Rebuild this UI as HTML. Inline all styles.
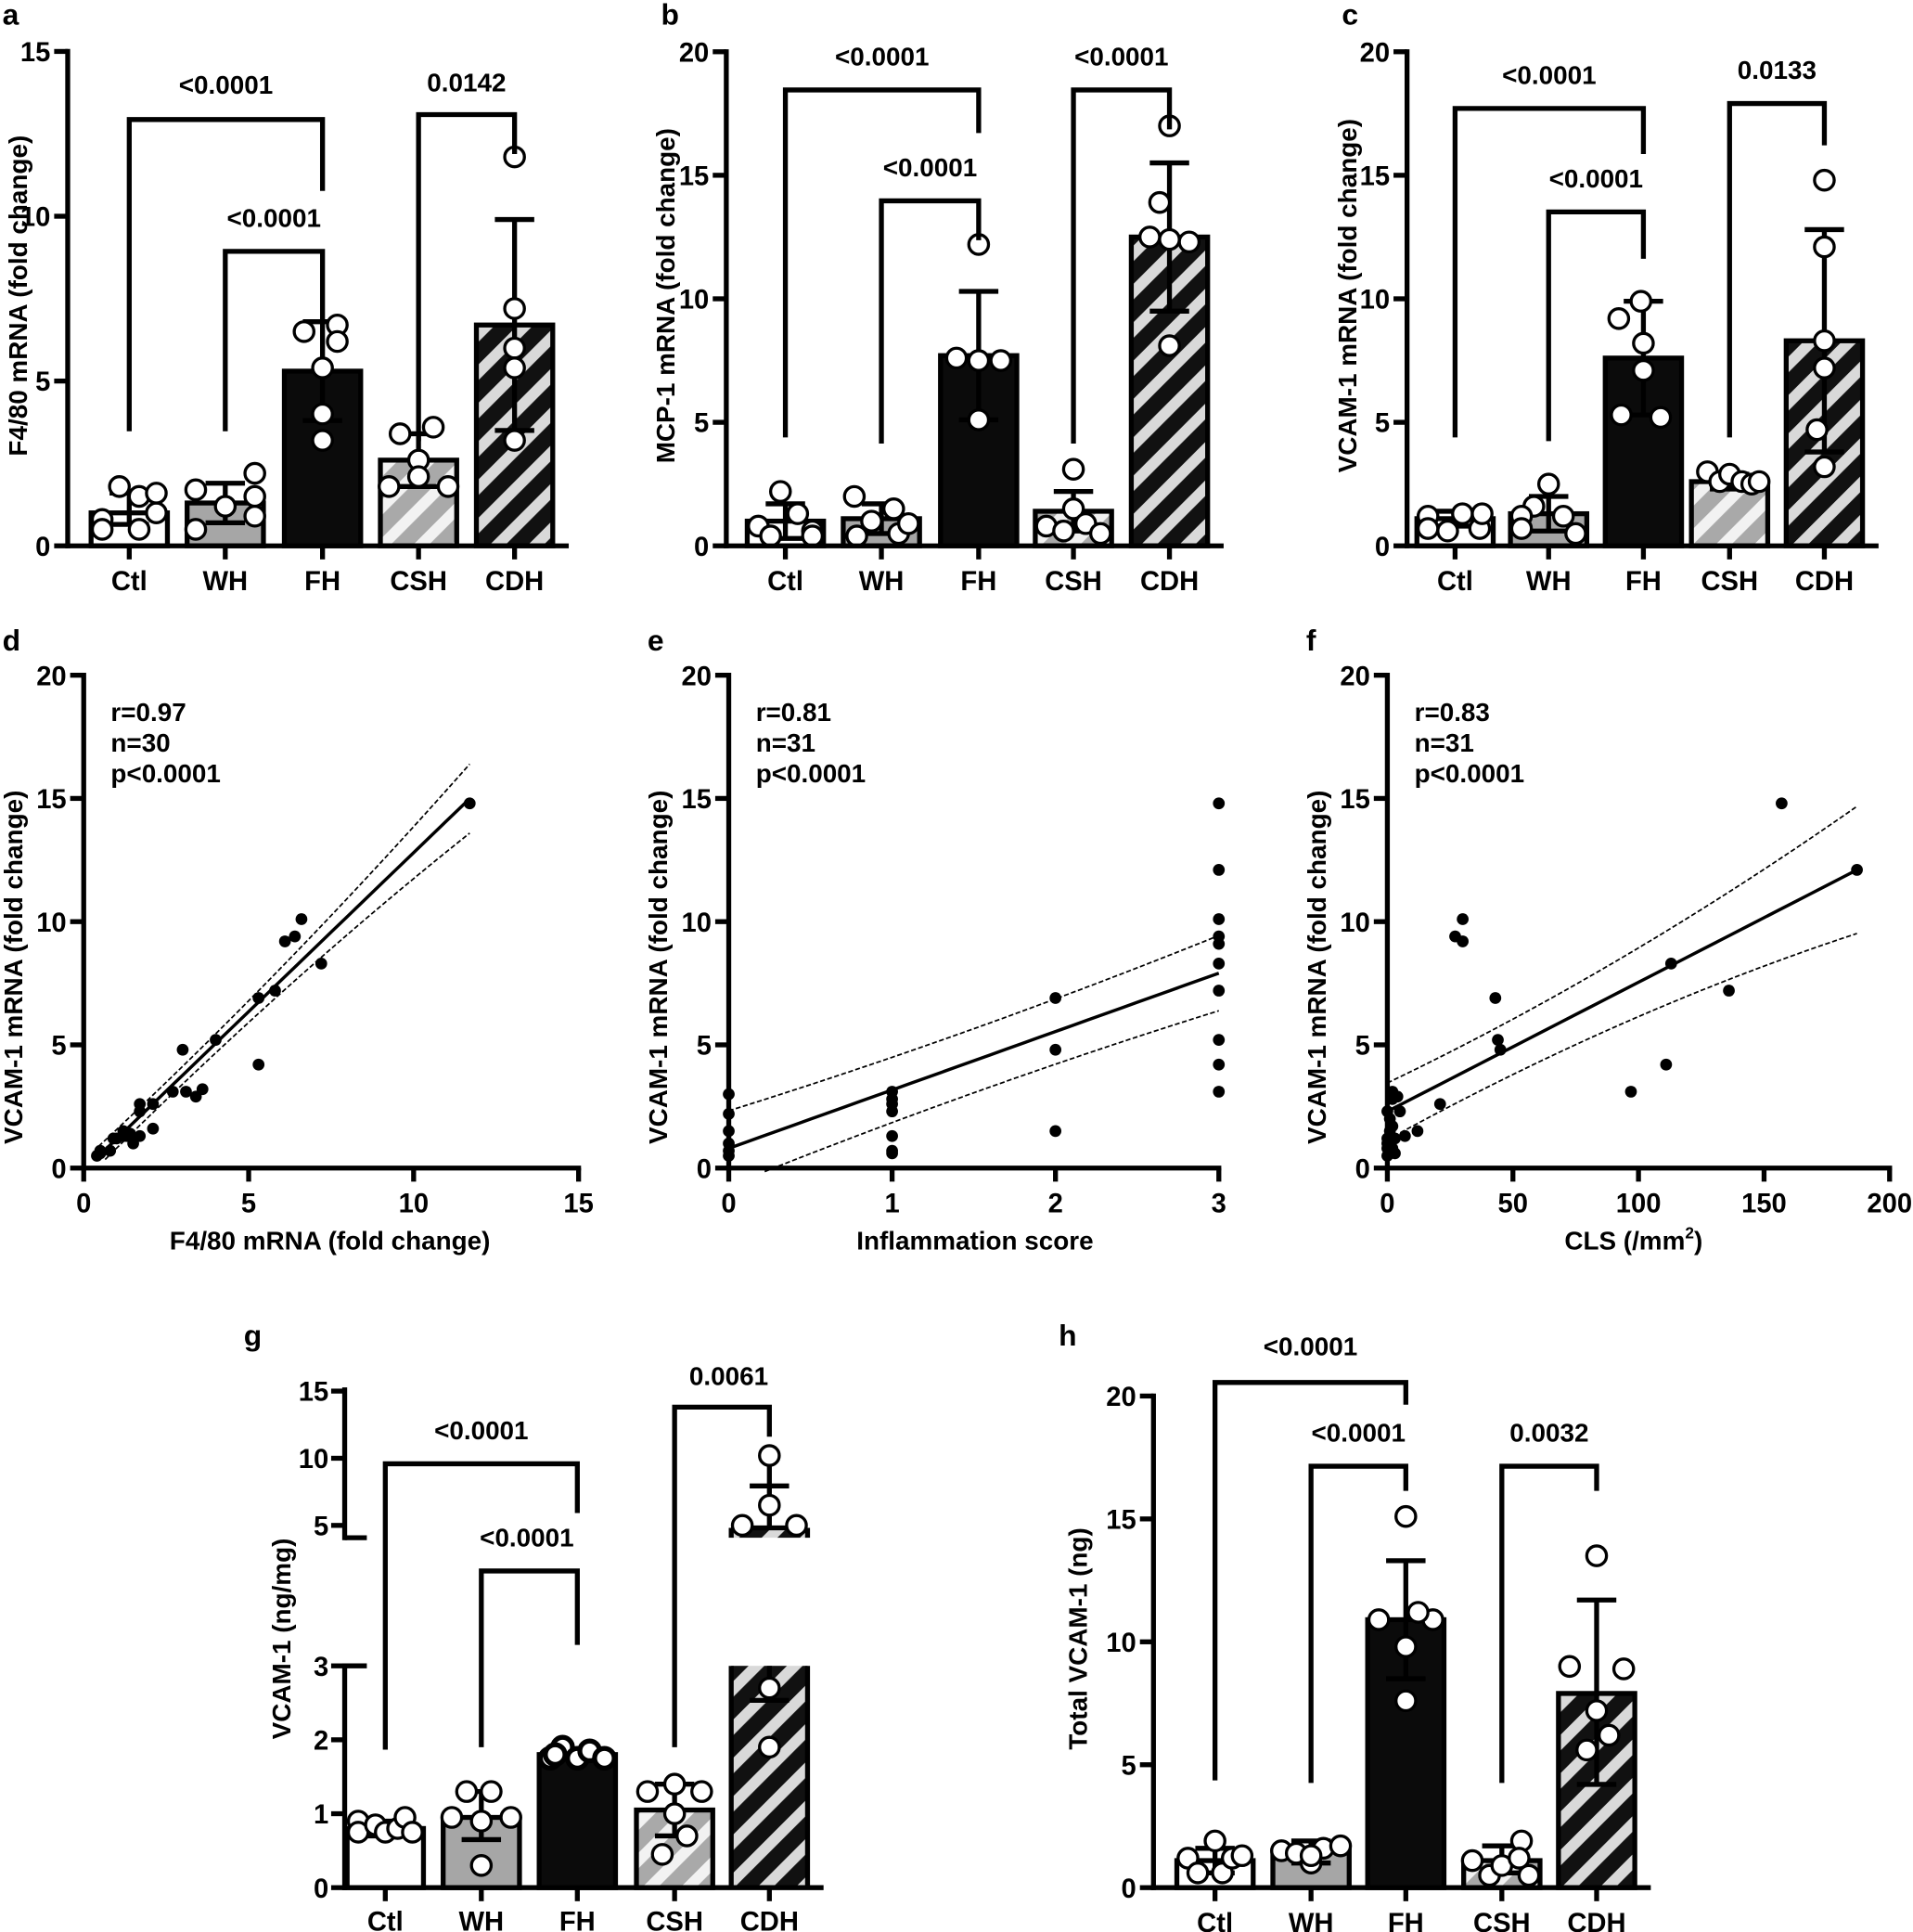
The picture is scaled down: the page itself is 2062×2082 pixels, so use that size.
<!DOCTYPE html>
<html><head><meta charset="utf-8"><style>html,body{margin:0;padding:0;background:#fff}svg{display:block}text{font-family:"Liberation Sans",Arial,sans-serif;font-weight:bold;fill:#000}</style></head>
<body>
<svg id="s" xmlns="http://www.w3.org/2000/svg" width="2062" height="2082" viewBox="0 0 1554 1568" preserveAspectRatio="none">
<defs>
<pattern id="pcsh" patternUnits="userSpaceOnUse" width="22" height="22" patternTransform="rotate(45)"><rect width="22" height="22" fill="#a9a9a9"/><rect width="9" height="22" fill="#f2f2f2"/></pattern>
<pattern id="pcdh" patternUnits="userSpaceOnUse" width="22" height="22" patternTransform="rotate(45)"><rect width="22" height="22" fill="#111"/><rect width="9" height="22" fill="#d9d9d9"/></pattern>
</defs>
<g id="g"></g>
</svg>
<script>
var out=[];
function L(x1,y1,x2,y2,w,extra){out.push('<line x1="'+x1+'" y1="'+y1+'" x2="'+x2+'" y2="'+y2+'" stroke="#000" stroke-width="'+(w||4)+'" '+(extra||'')+'/>');}
function T(x,y,s,size,anchor,extra){out.push('<text x="'+x+'" y="'+y+'" font-size="'+(size||20)+'" text-anchor="'+(anchor||'middle')+'" '+(extra||'')+'>'+s+'</text>');}
var fills=['#fff','#a6a6a6','#0b0b0b','url(#pcsh)','url(#pcdh)'];
var names=['Ctl','WH','FH','CSH','CDH'];
function barPanel(p){
  var Y=function(v){return p.y0-v*p.ppu;};
  for(var i=0;i<5;i++){var cx=p.cats[i],v=p.vals[i];
    out.push('<rect x="'+(cx-31)+'" y="'+Y(v)+'" width="62" height="'+(p.y0-Y(v))+'" fill="'+fills[i]+'" stroke="#000" stroke-width="4"/>');}
  for(var i=0;i<5;i++){var cx=p.cats[i];
    L(cx,Y(p.lo[i]),cx,Y(p.hi[i]),4);L(cx-16,Y(p.lo[i]),cx+16,Y(p.lo[i]),4);L(cx-16,Y(p.hi[i]),cx+16,Y(p.hi[i]),4);
    p.pts[i].forEach(function(q){out.push('<circle cx="'+(cx+q[0])+'" cy="'+Y(q[1])+'" r="8" fill="#fff" stroke="#000" stroke-width="2.5"/>');});}
  L(p.ax,p.y0+2,p.ax,Y(p.top)-2,4);
  L(p.ax-2,p.y0,p.cats[4]+44,p.y0,4);
  p.ticks.forEach(function(t){L(p.ax-11,Y(t),p.ax,Y(t),4);T(p.ax-14,Y(t)+8,t,22,'end');});
  for(var i=0;i<5;i++){L(p.cats[i],p.y0,p.cats[i],p.y0+11,4);T(p.cats[i],p.y0+36,names[i],22);}
  p.br.forEach(function(b){var x1=p.cats[b[0]],x2=p.cats[b[1]];
    out.push('<polyline points="'+x1+','+b[3]+' '+x1+','+b[2]+' '+x2+','+b[2]+' '+x2+','+b[4]+'" fill="none" stroke="#000" stroke-width="4"/>');
    T((x1+x2)/2,b[6],b[5],21);});
  out.push('<text transform="translate('+p.lx+','+p.ly+') rotate(-90)" font-size="21" text-anchor="middle">'+p.label+'</text>');
  T(p.letX,p.letY,p.letter,24,'start');
}
function pts(vals,offs){return vals.map(function(v,i){return [offs[i],v];});}
barPanel({ax:55,y0:443,ppu:26.75,top:15,ticks:[0,5,10,15],cats:[105,183,262,340,418],
 vals:[1.0,1.3,5.3,2.6,6.7],lo:[0.65,0.7,3.8,1.8,3.5],hi:[1.6,1.9,6.8,3.4,9.9],
 pts:[pts([0.8,0.5,1.8,0.5,1.5,1.0],[-22,-22,-8,8,8,22]).concat([[22,1.6]]),pts([1.7,0.5,1.2,2.2,1.5,0.9],[-24,-24,0,24,24,24]),pts([6.5,6.7,6.2,5.4,4.0,3.2],[-15,12,12,0,0,0]),pts([3.4,1.8,2.6,2.1,1.8,3.6],[-15,-24,0,0,24,12]),pts([11.8,7.2,6.0,5.4,3.2],[0,0,0,0,0])],
 br:[[0,2,97,350,155,'&lt;0.0001',76],[1,2,204,350,262,'&lt;0.0001',184],[3,4,93,358,125,'0.0142',74]],
 label:'F4/80 mRNA (fold change)',lx:22,ly:240,letter:'a',letX:2,letY:20});
barPanel({ax:590,y0:443,ppu:20.05,top:20,ticks:[0,5,10,15,20],cats:[638,716,795,872,950],
 vals:[1.0,1.1,7.7,1.4,12.5],lo:[0.3,0.5,5.1,0.6,9.5],hi:[1.7,1.7,10.3,2.2,15.5],
 pts:[pts([0.8,2.2,0.4,1.3,0.6,0.4],[-22,-4,-12,10,22,22]),pts([2.0,1.0,0.4,1.5,0.5,0.9],[-22,-8,-20,10,14,22]),pts([12.2,7.6,7.5,7.5,5.1],[0,-18,0,18,0]),pts([3.1,1.5,0.8,0.6,0.9,0.5],[0,0,-22,-8,10,22]),pts([17.0,13.9,12.5,12.4,12.3,8.1],[0,-8,-16,0,16,0])],
 br:[[0,2,73,355,108,'&lt;0.0001',53],[1,2,163,360,195,'&lt;0.0001',143],[3,4,73,360,105,'&lt;0.0001',53]],
 label:'MCP-1 mRNA (fold change)',lx:548,ly:240,letter:'b',letX:537,letY:20});
barPanel({ax:1143,y0:443,ppu:20.05,top:20,ticks:[0,5,10,15,20],cats:[1182,1258,1335,1405,1482],
 vals:[1.1,1.3,7.6,2.6,8.3],lo:[0.8,0.6,5.3,2.3,3.8],hi:[1.4,2.0,9.9,2.9,12.8],
 pts:[pts([1.2,0.7,0.6,1.3,0.7,1.3],[-22,-22,-6,6,20,22]),pts([2.5,1.6,1.2,0.7,1.2,0.5],[0,-12,-22,-22,12,22]),pts([9.9,9.2,7.1,5.3,5.2,8.2],[-2,-20,0,-18,14,0]),pts([3.0,2.6,2.9,2.6,2.5,2.6],[-18,-8,0,10,18,24]),pts([14.8,12.1,8.3,7.2,4.7,3.2],[0,0,0,0,-6,0])],
 br:[[0,2,88,355,125,'&lt;0.0001',68],[1,2,172,358,210,'&lt;0.0001',152],[3,4,84,355,118,'0.0133',64]],
 label:'VCAM-1 mRNA (fold change)',lx:1102,ly:240,letter:'c',letX:1090,letY:20});

function scatter(p){
  var X=function(v){return p.ax+v*p.xpu;},Y=function(v){return 948-v*20;};
  L(p.ax,950,p.ax,546,4);L(p.ax-2,948,X(p.xmax)+2,948,4);
  [0,5,10,15,20].forEach(function(t){L(p.ax-11,Y(t),p.ax,Y(t),4);T(p.ax-14,Y(t)+8,t,22,'end');});
  p.xt.forEach(function(t){L(X(t),948,X(t),959,4);T(X(t),984,t,22);});
  function poly(f,x0,x1,dash){var s='';for(var k=0;k<=30;k++){var x=x0+(x1-x0)*k/30;s+=X(x)+','+Y(f(x))+' ';}
    out.push('<polyline points="'+s+'" fill="none" stroke="#000" stroke-width="'+(dash?1.3:2.6)+'" '+(dash?'stroke-dasharray="4,2"':'')+'/>');}
  poly(p.fit,p.fx0,p.fx1,false);poly(p.up,p.ux0,p.fx1,true);poly(p.dn,p.dx0,p.fx1,true);
  p.d.forEach(function(q){out.push('<circle cx="'+X(q[0])+'" cy="'+Y(q[1])+'" r="4.8" fill="#000"/>');});
  T(p.ax+22,585,p.s[0],21,'start');T(p.ax+22,610,p.s[1],21,'start');T(p.ax+22,635,p.s[2],21,'start');
  out.push('<text transform="translate('+(p.ax-50)+',785) rotate(-90)" font-size="21" text-anchor="middle">VCAM-1 mRNA (fold change)</text>');
  out.push('<text x="'+(p.ax+200)+'" y="1014" font-size="21" text-anchor="middle">'+p.xl+'</text>');
  T(p.ax-66,528,p.letter,24,'start');
}
scatter({ax:68,xpu:26.8,xmax:15,xt:[0,5,10,15],fit:function(x){return -0.1+1.29*x;},fx0:0.45,fx1:11.7,
 up:function(x){var c=1.29*x-0.1, m=3.2;return c+0.3+0.012*(x-m)*(x-m)+0.02*x;},ux0:0.45,
 dn:function(x){var c=1.29*x-0.1, m=3.2;return c-0.3-0.012*(x-m)*(x-m)-0.02*x;},dx0:0.65,
 d:[[11.7,14.8],[6.6,10.1],[6.4,9.4],[6.1,9.2],[7.2,8.3],[5.8,7.2],[5.3,6.9],[5.3,4.2],[4.0,5.2],[3.0,4.8],[3.6,3.2],[3.4,2.9],[3.1,3.1],[2.7,3.1],[2.1,2.6],[2.1,1.6],[1.7,2.6],[1.7,2.3],[1.7,1.3],[1.5,1.0],[1.2,1.5],[1.2,1.3],[1.3,1.3],[0.9,1.2],[0.8,0.7],[0.5,0.6],[0.5,0.7],[0.4,0.5],[1.0,1.2],[1.4,1.4]],
 s:['r=0.97','n=30','p&lt;0.0001'],xl:'F4/80 mRNA (fold change)',letter:'d'});
scatter({ax:592,xpu:132.7,xmax:3,xt:[0,1,2,3],fit:function(x){return 0.8+2.37*x;},fx0:0,fx1:3,
 up:function(x){return 0.8+2.37*x+1.3+0.1*(x-1.5)*(x-1.5);},ux0:0,
 dn:function(x){return 0.8+2.37*x-1.3-0.1*(x-1.5)*(x-1.5);},dx0:0.22,
 d:[[0,3.0],[0,2.2],[0,1.5],[0,1.0],[0,0.5],[0,0.7],[1,3.1],[1,2.8],[1,2.6],[1,2.3],[1,1.3],[1,0.7],[1,0.6],[2,6.9],[2,4.8],[2,1.5],[3,14.8],[3,12.1],[3,10.1],[3,9.4],[3,9.1],[3,8.3],[3,7.2],[3,5.2],[3,4.2],[3,3.1]],
 s:['r=0.81','n=31','p&lt;0.0001'],xl:'Inflammation score',letter:'e'});
scatter({ax:1127,xpu:2.04,xmax:200,xt:[0,50,100,150,200],fit:function(x){return 2.3+0.0524*x;},fx0:0,fx1:187,
 up:function(x){return 2.3+0.0524*x+1.1+0.00006*(x-30)*(x-30);},ux0:0,
 dn:function(x){return 2.3+0.0524*x-1.1-0.00006*(x-30)*(x-30);},dx0:0,
 d:[[157,14.8],[187,12.1],[30,10.1],[27,9.4],[30,9.2],[43,6.9],[44,5.2],[45,4.8],[113,8.3],[136,7.2],[111,4.2],[97,3.1],[21,2.6],[12,1.5],[7,1.3],[5,2.3],[4,2.9],[2,3.1],[0,2.3],[2,1.7],[0,1.2],[1,0.6],[0,0.5],[2,0.8],[3,1.2],[1,1.5],[0,1.0],[2,2.8],[1,2.0],[0,0.8],[3,0.6]],
 s:['r=0.83','n=31','p&lt;0.0001'],xl:'CLS (/mm<tspan font-size="13" dy="-9">2</tspan><tspan dy="9">)</tspan>',letter:'f'});

(function(){
  var ax=280,y0=1532,cats=[313,391,469,548,625];
  var Y=function(v){return v<=3.5? y0-v*60 : 1238-(v-5)*10.9;};
  var vals=[0.8,0.95,1.8,1.05];
  for(var i=0;i<4;i++){out.push('<rect x="'+(cats[i]-31)+'" y="'+Y(vals[i])+'" width="62" height="'+(y0-Y(vals[i]))+'" fill="'+fills[i]+'" stroke="#000" stroke-width="4"/>');}
  out.push('<rect x="594" y="1352" width="62" height="180" fill="url(#pcdh)"/>');
  L(594,1352,594,1532,4);L(656,1352,656,1532,4);
  out.push('<rect x="594" y="1240" width="62" height="8" fill="url(#pcdh)"/>');
  L(594,1240,656,1240,4);L(594,1240,594,1248,4);L(656,1240,656,1248,4);
  var lo=[0.7,0.65,1.8,0.7],hi=[0.9,1.3,1.8,1.4];
  for(var i=0;i<4;i++){var cx=cats[i];if(i==2)continue;L(cx,Y(lo[i]),cx,Y(hi[i]),4);L(cx-16,Y(lo[i]),cx+16,Y(lo[i]),4);L(cx-16,Y(hi[i]),cx+16,Y(hi[i]),4);}
  L(625,1352,625,1380,4);L(609,1380,641,1380,4);L(625,1186,625,1240,4);L(609,1206,641,1206,4);
  var P=[[[-22,0.9],[-22,0.75],[-8,0.85],[0,0.75],[10,0.8],[16,0.95],[22,0.75]],[[-24,0.95],[-12,1.3],[8,1.3],[0,0.9],[24,0.95],[0,0.3]],[[-22,1.75],[-12,1.9],[0,1.75],[10,1.85],[22,1.75],[-18,1.8]],[[-22,1.3],[0,1.4],[22,1.3],[0,1.0],[10,0.7],[-10,0.45]],[[0,2.7],[0,1.9],[0,10.2],[0,6.5],[-22,5],[22,5]]];
  P.forEach(function(a,i){a.forEach(function(q){out.push('<circle cx="'+(cats[i]+q[0])+'" cy="'+Y(q[1])+'" r="8" fill="#fff" stroke="#000" stroke-width="'+(i==2?4:2.5)+'"/>');});});
  L(ax,1534,ax,1350,4);L(ax,1250,ax,1126,4);L(ax-2,y0,669,y0,4);
  [0,1,2,3].forEach(function(t){L(ax-11,Y(t),ax,Y(t),4);T(ax-13,Y(t)+8,t,22,'end');});
  L(ax,1352,ax+18,1352,4);L(ax,1248,ax+18,1248,4);
  [5,10,15].forEach(function(t){L(ax-11,Y(t),ax,Y(t),4);T(ax-13,Y(t)+8,t,22,'end');});
  for(var i=0;i<5;i++){L(cats[i],y0,cats[i],y0+11,4);T(cats[i],y0+35,names[i],22);}
  [[0,2,1188,1420,1228,'&lt;0.0001',391,1168],[1,2,1275,1418,1335,'&lt;0.0001',428,1255],[3,4,1142,1418,1166,'0.0061',592,1124]].forEach(function(b){var x1=cats[b[0]],x2=cats[b[1]];
    out.push('<polyline points="'+x1+','+b[3]+' '+x1+','+b[2]+' '+x2+','+b[2]+' '+x2+','+b[4]+'" fill="none" stroke="#000" stroke-width="4"/>');T(b[6],b[7],b[5],21);});
  out.push('<text transform="translate(236,1330) rotate(-90)" font-size="21" text-anchor="middle">VCAM-1 (ng/mg)</text>');
  T(198,1092,'g',24,'start');
})();
barPanel({ax:937,y0:1532,ppu:19.95,top:20,ticks:[0,5,10,15,20],cats:[987,1065,1142,1220,1297],
 vals:[1.1,1.5,10.9,1.1,7.9],lo:[0.6,1.0,8.5,0.6,4.2],hi:[1.6,1.9,13.3,1.7,11.7],
 pts:[pts([1.2,0.6,1.9,0.6,1.2,1.3],[-22,-14,0,6,14,22]),pts([1.5,1.4,1.0,1.6,1.7,1.3],[-24,-12,0,10,24,0]),pts([15.1,10.9,10.9,9.8,7.6,11.2],[0,-22,22,0,0,10]),pts([1.1,0.5,0.9,1.9,0.5,1.2],[-24,-10,0,16,22,14]),pts([13.5,9.0,8.9,7.2,6.2,5.6],[0,-22,22,0,10,-8])],
 br:[[0,2,1122,1445,1140,'&lt;0.0001',1100],[1,2,1190,1447,1210,'&lt;0.0001',1170],[3,4,1190,1447,1210,'0.0032',1170]],
 label:'Total VCAM-1 (ng)',lx:883,ly:1330,letter:'h',letX:860,letY:1092});
document.getElementById('g').innerHTML=out.join('');
</script>
</body></html>
